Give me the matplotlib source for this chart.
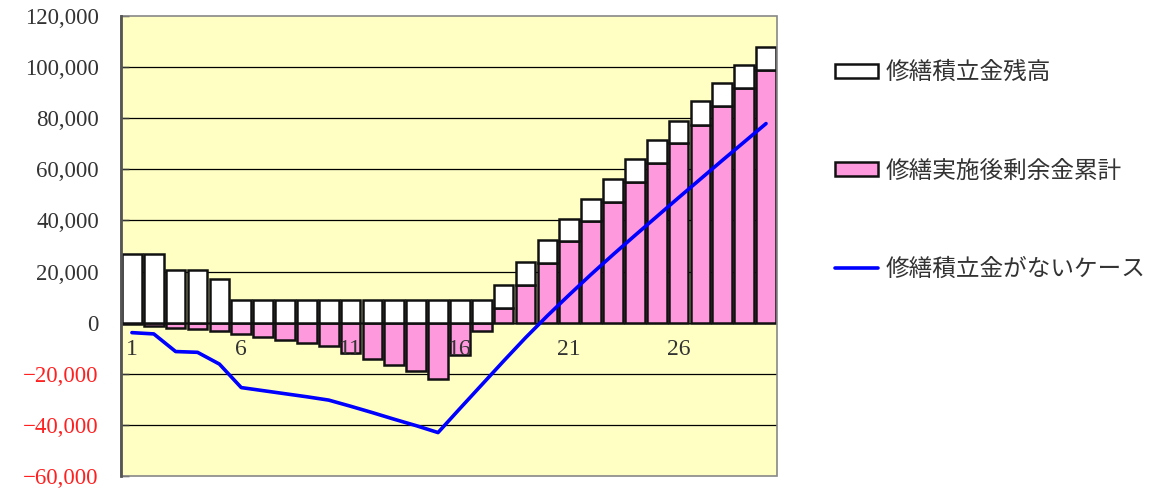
import numpy as np
import matplotlib

matplotlib.use("Agg")
import matplotlib.pyplot as plt
from matplotlib.patches import Rectangle
from matplotlib.ticker import FuncFormatter

# 経過年数
years = list(range(1, 31))

# 修繕実施後剰余金累計（円）
surplus = [-500, -1400, -2200, -2600, -3400, -4300, -5500, -6800, -8100, -9100,
           -11700, -14100, -16700, -19100, -22100, -12800, -3200, 5700, 14700, 23500,
           31900, 39700, 47400, 55000, 62400, 70300, 77500, 84600, 91800, 98900]

# 修繕積立金残高（剰余金の上に積み上げる分）
reserve = [27000, 27000, 20800, 20800, 16900, 8800, 8800, 8800, 8800, 8800,
           8800, 8800, 8800, 8800, 8800, 8800, 8800, 8900, 9000, 9000,
           8700, 8800, 9000, 9200, 9200, 8800, 9100, 9100, 9100, 9100]

# 修繕積立金がないケース
no_reserve = [-3900, -4400, -11300, -11600, -16200, -25400, -26600, -27800, -29000, -30300,
              -32700, -35200, -37800, -40300, -43000, -33600, -24300, -15000, -5900, 2700,
              10900, 18900, 26600, 34100, 41500, 48900, 56200, 63500, 70700, 77900]

x_labels = [1, 6, 11, 16, 21, 26]

LABEL_RESERVE = "修繕積立金残高"
LABEL_SURPLUS = "修繕実施後剰余金累計"
LABEL_LINE = "修繕積立金がないケース"

YELLOW = "#FFFFC4"
PINK = "#FF99DD"
EDGE = "#111111"

plt.rcParams["font.family"] = ["Liberation Serif", "DejaVu Serif"]

fig = plt.figure(figsize=(11.6, 4.92), dpi=100)
ax = fig.add_axes([0.1043, 0.0325, 0.5655, 0.935])
ax.set_facecolor(YELLOW)

x = np.array(years)
surplus_arr = np.array(surplus)
base = np.maximum(surplus_arr, 0)

ax.bar(x, surplus_arr, width=0.9, color=PINK, edgecolor=EDGE, linewidth=1.8,
       zorder=2, label=LABEL_SURPLUS)
ax.bar(x, reserve, bottom=base, width=0.9, color="white", edgecolor=EDGE,
       linewidth=1.8, zorder=2, label=LABEL_RESERVE)
ax.plot(x, no_reserve, color="#0000FF", lw=2.6, zorder=3, label=LABEL_LINE,
        solid_capstyle="round")

ax.set_xlim(0.5, 30.5)
ax.set_ylim(-60000, 120000)

# 横線（枠の上下端を除く）
for v in range(-40000, 120000, 20000):
    ax.axhline(v, color="black", lw=0.9, zorder=0.8)

ax.set_yticks(range(-60000, 120001, 20000))
ax.yaxis.set_major_formatter(FuncFormatter(lambda v, _: f"{int(v):,}".replace("-", "\u2212")))
ax.tick_params(axis="y", direction="in", length=6, width=1, pad=16,
               labelsize=16.5, labelcolor="#333333", color="#333333")
for lbl, v in zip(ax.get_yticklabels(), ax.get_yticks()):
    lbl.set_color("#FF2020" if v < 0 else "#333333")

# 年のラベルは 0 の線の下に置く
ax.spines["bottom"].set_position(("data", 0))
ax.set_xticks(x_labels)
ax.set_xticklabels([str(v) for v in x_labels])
ax.tick_params(axis="x", length=0, pad=12, labelsize=17, labelcolor="#333333")
ax.xaxis.set_zorder(2.5)

for side in ["top", "right", "bottom", "left"]:
    ax.spines[side].set_visible(False)
ax.add_patch(Rectangle((0, 0), 1, 1, transform=ax.transAxes, fill=False,
                       edgecolor="#888888", lw=1.2, zorder=4, clip_on=False))
ax.plot([0, 0], [0, 1], transform=ax.transAxes, color="#555555", lw=2,
        zorder=4, clip_on=False)

handles, labels = ax.get_legend_handles_labels()
order = [labels.index(LABEL_RESERVE), labels.index(LABEL_SURPLUS), labels.index(LABEL_LINE)]
leg = fig.legend([handles[i] for i in order], [labels[i] for i in order],
                 loc="upper left", bbox_to_anchor=(835 / 1160, 1 - 61 / 492),
                 frameon=False, borderaxespad=0, borderpad=0,
                 prop={"family": ["Noto Sans CJK JP", "DejaVu Sans"], "size": 17},
                 handlelength=1.8, handleheight=0.55, handletextpad=0.35,
                 labelspacing=3.2)
for t in leg.get_texts():
    t.set_color("#333333")

fig.savefig("out.png", dpi=100)
